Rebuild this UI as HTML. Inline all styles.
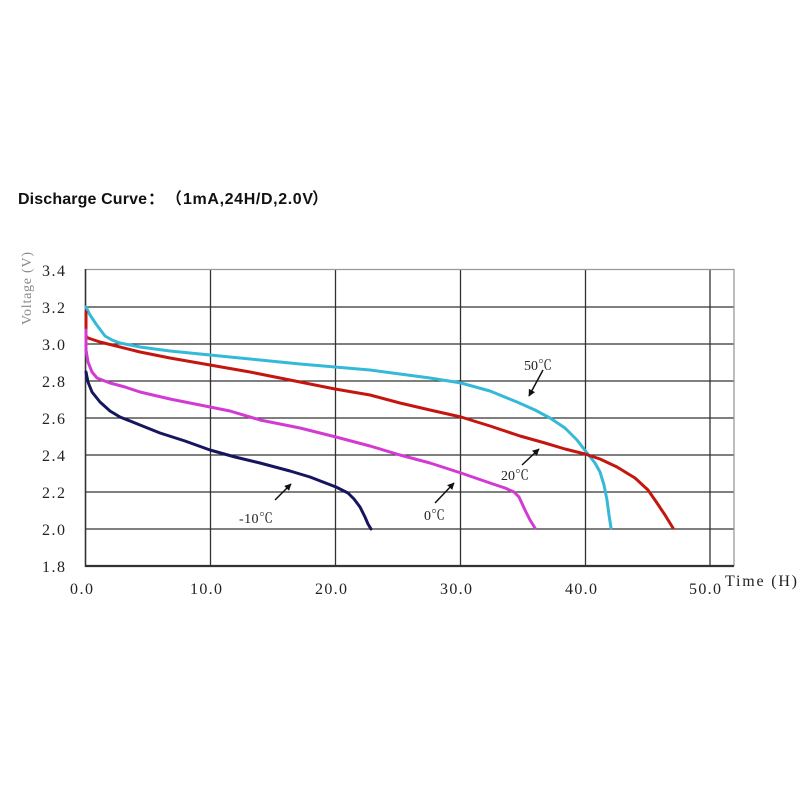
<!DOCTYPE html>
<html>
<head>
<meta charset="utf-8">
<style>
  html, body { margin:0; padding:0; background:#fff; }
  body { width:800px; height:800px; overflow:hidden; }
  svg { display:block; }
</style>
</head>
<body>
<svg width="800" height="800" viewBox="0 0 800 800" xmlns="http://www.w3.org/2000/svg">
  <defs>
    <marker id="ah" viewBox="0 0 10 10" refX="9" refY="5" markerWidth="7" markerHeight="7" markerUnits="userSpaceOnUse" orient="auto">
      <path d="M0,0 L10,5 L0,10 z" fill="#111"/>
    </marker>
  </defs>
  <rect width="800" height="800" fill="#fff"/>

  <!-- Title -->
  <g font-family="'Liberation Sans','Noto Sans CJK SC',sans-serif" font-weight="bold" font-size="16" fill="#111">
    <text x="18" y="204" textLength="129">Discharge Curve</text>
    <text x="148" y="204">：</text>
    <text x="166" y="204">（</text>
    <text x="183" y="204" textLength="130">1mA,24H/D,2.0V</text>
    <text x="312" y="204">）</text>
  </g>

  <!-- Grid -->
  <g stroke="#333" stroke-width="1.3" fill="none">
    <line x1="85.5" y1="307" x2="734" y2="307"/>
    <line x1="85.5" y1="344" x2="734" y2="344"/>
    <line x1="85.5" y1="381" x2="734" y2="381"/>
    <line x1="85.5" y1="418" x2="734" y2="418"/>
    <line x1="85.5" y1="455" x2="734" y2="455"/>
    <line x1="85.5" y1="492" x2="734" y2="492"/>
    <line x1="85.5" y1="529" x2="734" y2="529"/>
    <line x1="210.5" y1="269" x2="210.5" y2="566"/>
    <line x1="335.5" y1="269" x2="335.5" y2="566"/>
    <line x1="460.5" y1="269" x2="460.5" y2="566"/>
    <line x1="585.5" y1="269" x2="585.5" y2="566"/>
    <line x1="710" y1="269" x2="710" y2="566"/>
  </g>
  <line x1="85.5" y1="269.5" x2="734" y2="269.5" stroke="#999" stroke-width="1.3"/>
  <line x1="734" y1="269" x2="734" y2="566" stroke="#999" stroke-width="1.3"/>
  <line x1="85.5" y1="269" x2="85.5" y2="567" stroke="#333" stroke-width="1.6"/>
  <line x1="85" y1="566" x2="734" y2="566" stroke="#333" stroke-width="2.2"/>

  <!-- Y tick labels -->
  <g font-family="'Liberation Serif',serif" font-size="16" fill="#222">
    <text x="42" y="276" textLength="23">3.4</text>
    <text x="42" y="313" textLength="23">3.2</text>
    <text x="42" y="350" textLength="23">3.0</text>
    <text x="42" y="387" textLength="23">2.8</text>
    <text x="42" y="424" textLength="23">2.6</text>
    <text x="42" y="461" textLength="23">2.4</text>
    <text x="42" y="498" textLength="23">2.2</text>
    <text x="42" y="535" textLength="23">2.0</text>
    <text x="42" y="572" textLength="23">1.8</text>
  </g>
  <!-- X tick labels -->
  <g font-family="'Liberation Serif',serif" font-size="16" fill="#222">
    <text x="70" y="594" textLength="23">0.0</text>
    <text x="190" y="594" textLength="32">10.0</text>
    <text x="315" y="594" textLength="32">20.0</text>
    <text x="440" y="594" textLength="32">30.0</text>
    <text x="565" y="594" textLength="32">40.0</text>
    <text x="689" y="594" textLength="32">50.0</text>
  </g>
  <text x="725" y="586" font-family="'Liberation Serif',serif" font-size="16" fill="#222" textLength="72">Time (H)</text>
  <text transform="translate(31,325) rotate(-90)" x="0" y="0" font-family="'Liberation Serif',serif" font-size="14" fill="#8a8a8a" textLength="73">Voltage (V)</text>

  <!-- Curves -->
  <g fill="none" stroke-width="3" stroke-linejoin="round" stroke-linecap="round">
    <path stroke="#35b9d8" d="M86,307 L90,315 L96,324 L105,336 L112,340 L120,343 L140,347 L170,351 L210,355 L260,360 L300,364 L335,367 L370,370 L400,374 L430,378 L461,383 L490,391 L517,402 L535,410 L550,418 L565,428 L577,440 L587,453 L595,463 L600,472 L604,485 L607,500 L609,515 L611,528"/>
    <path stroke="#c4160f" d="M86,312 L86,336 L88,338 L100,342 L140,352 L170,358 L210,365 L250,372 L290,380 L335,389 L370,395 L400,403 L430,410 L461,417 L490,426 L520,436 L545,443 L565,449 L585,454 L600,459 L617,467 L635,478 L648,490 L657,503 L665,515 L673,528"/>
    <path stroke="#d23ad2" d="M86,330 L86,350 L88,362 L92,372 L97,378 L110,383 L125,387 L140,392 L170,399 L200,405 L230,411 L260,420 L300,428 L336,437 L370,446 L400,455 L430,463 L461,473 L490,483 L505,488 L514,492 L519,497 L525,510 L530,520 L535,528"/>
    <path stroke="#161660" d="M86,372 L88,382 L92,392 L100,402 L110,411 L120,417 L140,425 L160,433 L185,441 L210,450 L235,457 L260,463 L290,471 L310,477 L336,487 L348,493 L354,499 L360,507 L365,517 L368,524 L371,529"/>
  </g>

  <!-- Annotations -->
  <g font-family="'Liberation Serif','Noto Serif CJK SC',serif" font-size="14" fill="#222">
    <text x="524" y="370" textLength="28">50℃</text>
    <text x="501" y="480" textLength="28">20℃</text>
    <text x="424" y="520" textLength="21">0℃</text>
    <text x="239" y="523" textLength="34">-10℃</text>
  </g>
  <g stroke="#111" stroke-width="1.5" fill="none">
    <line x1="543" y1="370" x2="529" y2="396" marker-end="url(#ah)"/>
    <line x1="522" y1="465" x2="539" y2="449" marker-end="url(#ah)"/>
    <line x1="435" y1="503" x2="454" y2="483" marker-end="url(#ah)"/>
    <line x1="275" y1="500" x2="291" y2="484" marker-end="url(#ah)"/>
  </g>
</svg>
</body>
</html>
